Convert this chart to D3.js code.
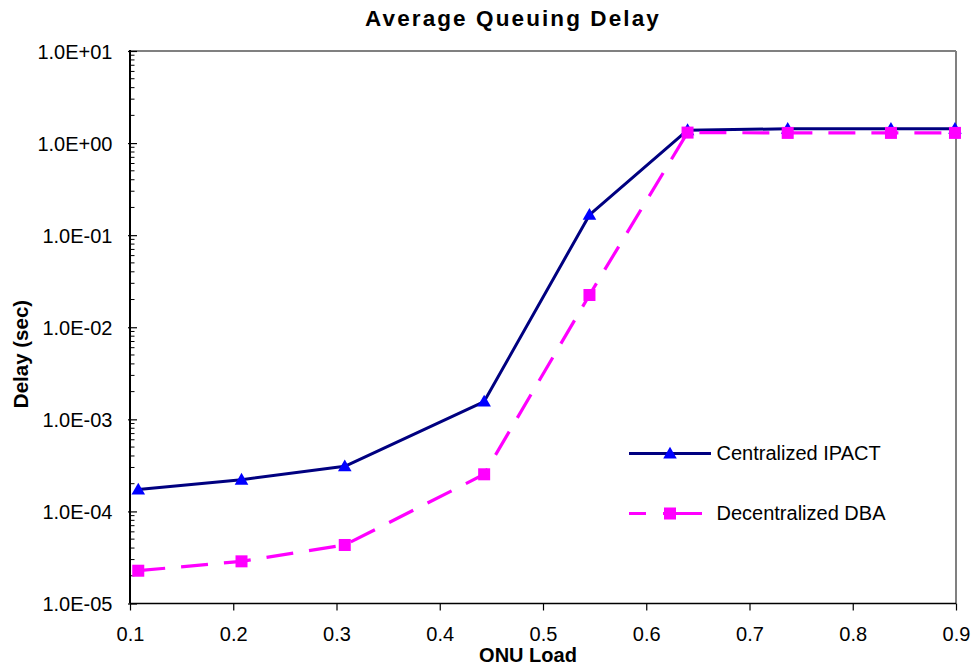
<!DOCTYPE html>
<html>
<head>
<meta charset="utf-8">
<script src="https://cdn.jsdelivr.net/npm/d3@7"></script>
<style>
  html, body { margin: 0; padding: 0; background: #fff; }
  svg { display: block; font-family: "Liberation Sans", Arial, sans-serif; }
</style>
</head>
<body>
<svg id="chart" width="976" height="668"></svg>
<script>
// ---- data ----
const onuLoad = [0.108, 0.208, 0.308, 0.443, 0.545, 0.640, 0.737, 0.837, 0.899];
const centralizedIPACT = [1.73e-4, 2.21e-4, 3.09e-4, 1.56e-3, 0.166, 1.38, 1.43, 1.43, 1.43];
const decentralizedDBA = [2.27e-5, 2.87e-5, 4.32e-5, 2.53e-4, 0.0224, 1.30, 1.29, 1.29, 1.29];
const xTicks = [0.1, 0.2, 0.3, 0.4, 0.5, 0.6, 0.7, 0.8, 0.9];
const yTicks = [1e-5, 1e-4, 1e-3, 1e-2, 1e-1, 1, 10];
const yTickLabels = ["1.0E-05", "1.0E-04", "1.0E-03", "1.0E-02", "1.0E-01", "1.0E+00", "1.0E+01"];
const seriesNames = ["Centralized IPACT", "Decentralized DBA"];
const titleText = "Average Queuing Delay";
const xTitle = "ONU Load";
const yTitle = "Delay (sec)";

// ---- layout ----
const L = 130, R = 956, T = 51, B = 603.5;
const svg = d3.select("#chart");
const x = d3.scaleLinear().domain([0.1, 0.9]).range([L, R]);
const y = d3.scaleLog().domain([1e-5, 10]).range([B, T]);

// title
svg.append("text").attr("x", 513).attr("y", 26).attr("text-anchor", "middle")
  .attr("font-weight", "bold").attr("font-size", 22.5).attr("letter-spacing", 2.1)
  .text(titleText);

// frame: top & right gray
svg.append("line").attr("x1", L).attr("x2", R).attr("y1", T).attr("y2", T)
  .attr("stroke", "#808080").attr("stroke-width", 2);
svg.append("line").attr("x1", R).attr("x2", R).attr("y1", T).attr("y2", B)
  .attr("stroke", "#808080").attr("stroke-width", 2);

// minor ticks on y
const minor = [];
for (let e = -5; e < 1; e++) for (let m = 2; m <= 9; m++) minor.push(m * Math.pow(10, e));
svg.append("g").selectAll("line").data(minor).join("line")
  .attr("x1", L).attr("x2", L + 4.5).attr("y1", d => y(d)).attr("y2", d => y(d))
  .attr("stroke", "#000").attr("stroke-width", 1);

// y axis via d3 axis (major ticks)
const yAxis = d3.axisLeft(y).tickValues(yTicks).tickSize(0)
  .tickFormat((d, i) => yTickLabels[i]);
const gy = svg.append("g").attr("transform", `translate(${L},0)`).call(yAxis);
gy.select(".domain").remove();
gy.selectAll(".tick text").attr("x", -17.5).attr("dy", null).attr("y", 7)
  .attr("font-size", 20).attr("font-family", "Liberation Sans, Arial, sans-serif").attr("fill", "#000");
gy.selectAll(".tick").append("line").attr("x1", -2).attr("x2", 7)
  .attr("stroke", "#000").attr("stroke-width", 1.2);

// x axis
const xAxis = d3.axisBottom(x).tickValues(xTicks).tickSize(7).tickPadding(0)
  .tickFormat(d3.format(".1f"));
const gx = svg.append("g").attr("transform", `translate(0,${B})`).call(xAxis);
gx.select(".domain").remove();
gx.selectAll(".tick line").attr("stroke", "#000").attr("stroke-width", 1.2);
gx.selectAll(".tick text").attr("y", 37).attr("dy", null)
  .attr("font-size", 20).attr("font-family", "Liberation Sans, Arial, sans-serif").attr("fill", "#000");

// axis lines
svg.append("line").attr("x1", L).attr("x2", L).attr("y1", T - 1).attr("y2", B)
  .attr("stroke", "#000").attr("stroke-width", 2);
svg.append("line").attr("x1", L).attr("x2", R).attr("y1", B).attr("y2", B)
  .attr("stroke", "#000").attr("stroke-width", 1.6);

// axis titles
svg.append("text").attr("x", 528).attr("y", 661.5).attr("text-anchor", "middle")
  .attr("font-weight", "bold").attr("font-size", 20).text(xTitle);
svg.append("text").attr("transform", "translate(27.5,354) rotate(-90)").attr("text-anchor", "middle")
  .attr("font-weight", "bold").attr("font-size", 20.5).text(yTitle);

// series
const line = d3.line().x(d => x(d[0])).y(d => y(d[1]));
const s1 = onuLoad.map((v, i) => [v, centralizedIPACT[i]]);
const s2 = onuLoad.map((v, i) => [v, decentralizedDBA[i]]);
const tri = d3.symbol().type(d3.symbolTriangle).size(80);

svg.append("path").datum(s1).attr("d", line).attr("fill", "none")
  .attr("stroke", "#000080").attr("stroke-width", 3).attr("stroke-linejoin", "round");
svg.append("g").selectAll("path").data(s1).join("path")
  .attr("d", tri).attr("transform", d => `translate(${x(d[0])},${y(d[1]) + 1})`)
  .attr("fill", "#0000FF");

svg.append("path").datum(s2).attr("d", line).attr("fill", "none")
  .attr("stroke", "#FF00FF").attr("stroke-width", 3.2).attr("stroke-dasharray", "27,16");
svg.append("g").selectAll("rect").data(s2).join("rect")
  .attr("x", d => x(d[0]) - 6).attr("y", d => y(d[1]) - 6)
  .attr("width", 12).attr("height", 12).attr("fill", "#FF00FF");

// legend
const lg = svg.append("g");
lg.append("line").attr("x1", 629).attr("x2", 711).attr("y1", 453.5).attr("y2", 453.5)
  .attr("stroke", "#000080").attr("stroke-width", 3);
lg.append("path").attr("d", tri).attr("transform", "translate(670,454.5)").attr("fill", "#0000FF");
lg.append("text").attr("x", 716.5).attr("y", 460).attr("font-size", 20).text(seriesNames[0]);
lg.append("line").attr("x1", 629).attr("x2", 702).attr("y1", 513.5).attr("y2", 513.5)
  .attr("stroke", "#FF00FF").attr("stroke-width", 3.2).attr("stroke-dasharray", "17,17,100");
lg.append("rect").attr("x", 664).attr("y", 507.5).attr("width", 12).attr("height", 12).attr("fill", "#FF00FF");
lg.append("text").attr("x", 716.5).attr("y", 520).attr("font-size", 20).text(seriesNames[1]);
</script>
</body>
</html>
